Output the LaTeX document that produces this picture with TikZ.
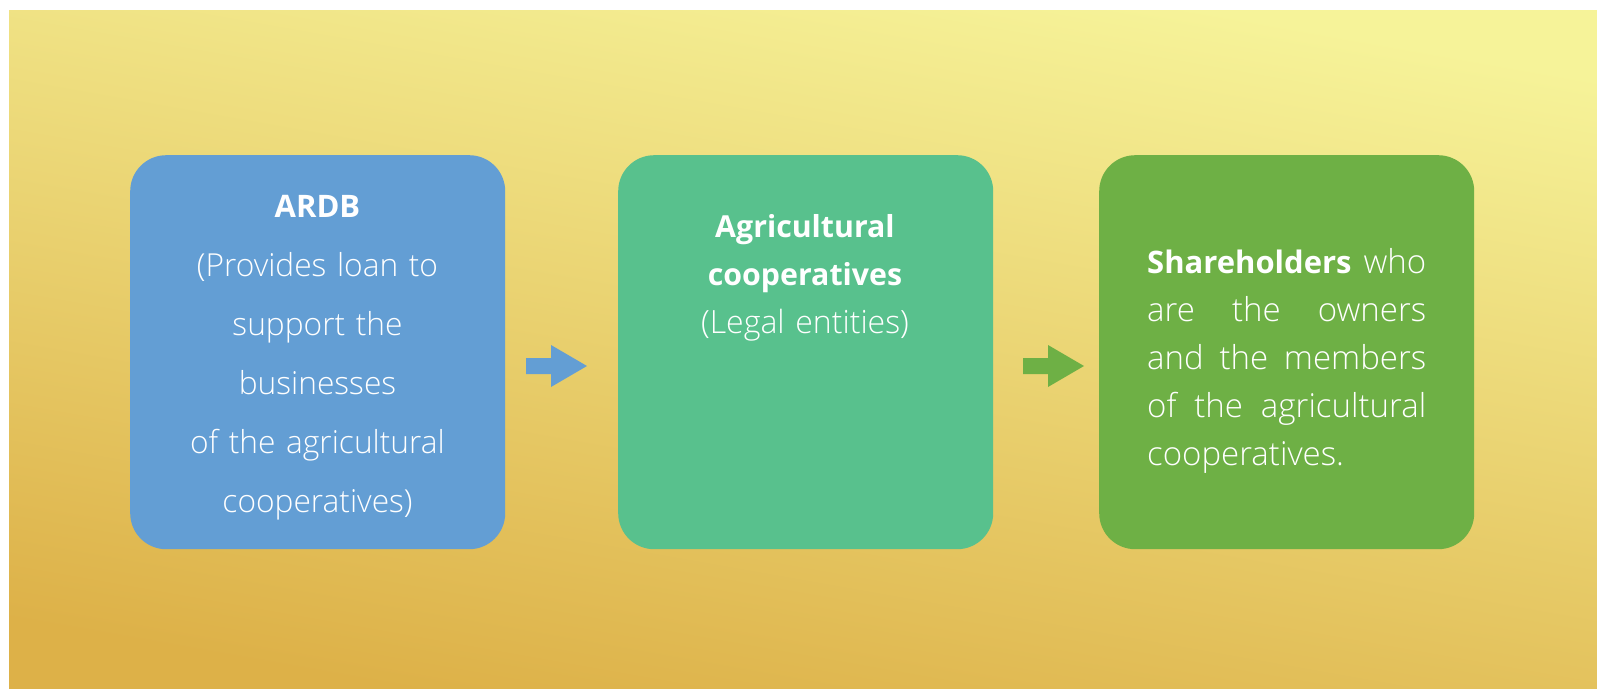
\documentclass[tikz,border=0pt]{standalone}
\usepackage{fontspec}
\setmainfont{Open Sans}
\IfFontExistsTF{Open Sans Light}{\newfontfamily\lightfont{Open Sans Light}}{\newfontfamily\lightfont{Open Sans}}
\definecolor{cblue}{RGB}{99,158,212}
\definecolor{cteal}{RGB}{88,193,141}
\definecolor{cgreen}{RGB}{110,176,69}
\definecolor{bgtop}{RGB}{246,243,153}
\definecolor{bgbot}{RGB}{221,177,72}
\begin{document}
\begin{tikzpicture}[x=1pt,y=-1pt,
  box/.style={rounded corners=36pt, minimum width=375pt, minimum height=394pt, inner sep=0pt, anchor=north west, draw=none},
  txt/.style={text=white, inner sep=0pt}
]
\useasboundingbox (0,0) rectangle (1597,688);
\shade[top color=bgtop, bottom color=bgbot, shading angle=-10] (9,10) rectangle (1597,688);

\node[box, fill=cblue]  (b1) at (130,155) {};
\node[box, fill=cteal]  (b2) at (618,155) {};
\node[box, fill=cgreen] (b3) at (1099,155) {};

\node[txt, text width=360pt, align=center, anchor=base, font=\lightfont\fontsize{31.7}{59}\selectfont] (t1) at (317.5,217)
  {{\normalfont\bfseries\fontsize{31}{59}\selectfont ARDB}\\(Provides loan to\\support the\\businesses\\of the agricultural\\cooperatives)};

\node[txt, text width=360pt, align=center, anchor=base, font=\lightfont\fontsize{32}{48}\selectfont] (t2) at (805,237)
  {{\normalfont\bfseries\fontsize{30.3}{48}\selectfont Agricultural}\hspace*{12pt}\\{\normalfont\bfseries\fontsize{30.3}{48}\selectfont cooperatives}\\(Legal entities)};

\node[txt, text width=279pt, align=justify, anchor=base west, font=\lightfont\fontsize{33}{48}\selectfont] (t3) at (1147,273)
  {\hyphenpenalty=10000 {\normalfont\bfseries\fontsize{31}{48}\selectfont Shareholders} who\linebreak are the owners\linebreak and the members\linebreak of the agricultural\linebreak cooperatives.};

\coordinate (a1) at (526,366);
\coordinate (a2) at (1023,366);
\fill[cblue, shift={(a1)}] (0,-8) -- (25,-8) -- (25,-21) -- (61,0) -- (25,21) -- (25,8) -- (0,8) -- cycle;
\fill[cgreen, shift={(a2)}] (0,-8) -- (25,-8) -- (25,-21) -- (61,0) -- (25,21) -- (25,8) -- (0,8) -- cycle;
\end{tikzpicture}
\end{document}
